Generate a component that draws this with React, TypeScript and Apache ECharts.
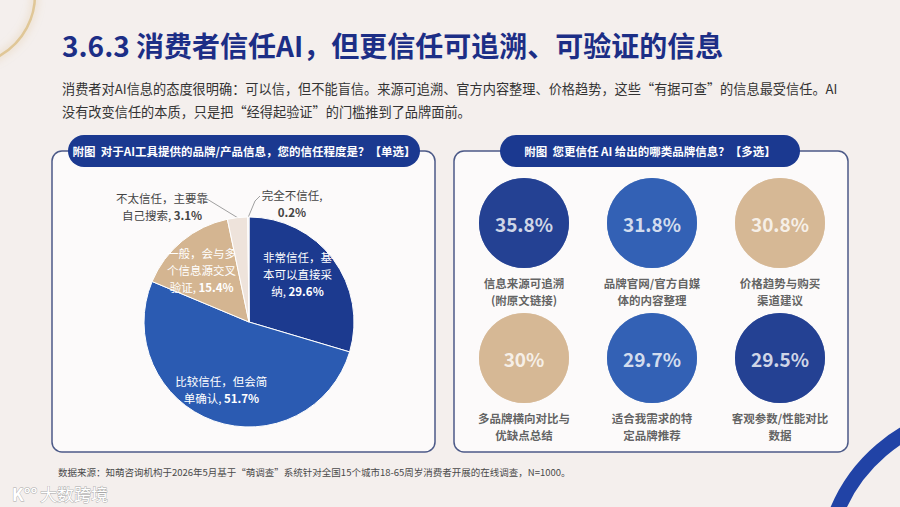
import React, { useEffect, useRef } from "react";
import * as echarts from "echarts";

// ---- data ----
const pageTitle = "3.6.3 消费者信任AI，但更信任可追溯、可验证的信息";
const introLines = [
  "消费者对AI信息的态度很明确：可以信，但不能盲信。来源可追溯、官方内容整理、价格趋势，这些“有据可查”的信息最受信任。AI",
  "没有改变信任的本质，只是把“经得起验证”的门槛推到了品牌面前。",
];
const leftHeading = "附图  对于AI工具提供的品牌/产品信息，您的信任程度是？【单选】";
const rightHeading = "附图  您更信任 AI 给出的哪类品牌信息？【多选】";
const sourceNote =
  "数据来源：知萌咨询机构于2026年5月基于“萌调查”系统针对全国15个城市18-65周岁消费者开展的在线调查，N=1000。";

const trustNames = [
  "非常信任，基\n本可以直接采\n纳",
  "比较信任，但会简\n单确认",
  "一般，会与多\n个信息源交叉\n验证",
  "不太信任，主要靠\n自己搜索",
  "完全不信任",
];
const trustShares = [29.6, 51.7, 15.4, 3.1, 0.2];

const infoTypes = [
  "信息来源可追溯\n(附原文链接)",
  "品牌官网/官方自媒\n体的内容整理",
  "价格趋势与购买\n渠道建议",
  "多品牌横向对比与\n优缺点总结",
  "适合我需求的特\n定品牌推荐",
  "客观参数/性能对比\n数据",
];
const infoShares = [35.8, 31.8, 30.8, 30, 29.7, 29.5];

// ---- styling ----
const FONT = '"Noto Sans CJK SC", "Noto Sans", sans-serif';
const NAVY = "#1c3a8f";
const BLUE = "#2b5bb2";
const TAN = "#d4b591";
const trustColors = [NAVY, BLUE, TAN, "#eee3db", "#f5efea"];
const infoColors = [NAVY, BLUE, TAN, TAN, BLUE, NAVY];

const PIE_CX = 249;
const PIE_CY = 322;
const PIE_R = 105;

// nudges for the labels drawn inside the slices
const insideShift: number[][] = [
  [4, -15],
  [-9, 15],
  [-12, -9],
];

function sliceAnchor(i: number): number[] {
  const total = trustShares.reduce((a, b) => a + b, 0);
  let before = 0;
  for (let k = 0; k < i; k++) before += trustShares[k];
  const a = ((before + trustShares[i] / 2) / total) * Math.PI * 2;
  return [PIE_CX + PIE_R * Math.sin(a), PIE_CY - PIE_R * Math.cos(a)];
}

function buildOption(): any {
  const richBase = {
    n: { fontFamily: FONT, fontSize: 11.5, lineHeight: 17, fontWeight: "normal" },
    v: { fontFamily: FONT, fontSize: 11.5, lineHeight: 17, fontWeight: "bold" },
  };

  const pieData = trustNames.map((name, i) => {
    const item: any = {
      name,
      value: trustShares[i],
      itemStyle: { color: trustColors[i] },
    };
    if (i >= 3) {
      item.label = { position: "outside", color: "#444444" };
      item.labelLine = { show: true, lineStyle: { color: "#a0a0a0", width: 1 } };
    }
    return item;
  });

  const circleData = infoShares.map((v, i) => ({
    name: infoTypes[i],
    value: [i % 3, Math.floor(i / 3), v],
    itemStyle: { color: infoColors[i] },
  }));

  const panel = (x: number, w: number) => ({
    type: "rect",
    shape: { x, y: 151, width: w, height: 301, r: 10 },
    style: { fill: "#fcfafa", stroke: "#4c5a88", lineWidth: 1.5 },
  });
  const pill = (x: number, w: number, text: string) => [
    {
      type: "rect",
      shape: { x, y: 135, width: w, height: 32, r: 16 },
      style: { fill: "#1b3990" },
    },
    {
      type: "text",
      x: x + w / 2,
      y: 151,
      style: {
        text,
        fill: "#ffffff",
        font: `bold 11.5px ${FONT}`,
        textAlign: "center",
        textVerticalAlign: "middle",
      },
    },
  ];

  return {
    animation: false,
    backgroundColor: "#f4efed",
    graphic: [
      // decorative rings in the corners
      {
        type: "circle",
        shape: { cx: -35, cy: -5, r: 70 },
        style: { fill: "rgba(0,0,0,0)", stroke: "#e0c797", lineWidth: 2.5, shadowBlur: 8, shadowColor: "rgba(214,180,120,0.7)" },
      },
      {
        type: "arc",
        shape: { cx: 985, cy: 572, r: 160, startAngle: Math.PI * 0.95, endAngle: Math.PI * 1.6 },
        style: { stroke: "#2143a6", lineWidth: 15, fill: "none" },
      },
      // heading
      {
        type: "text",
        x: 62,
        y: 45,
        style: {
          text: pageTitle,
          fill: "#1c2e86",
          font: `bold 28px ${FONT}`,
          textAlign: "left",
          textVerticalAlign: "middle",
        },
      },
      ...introLines.map((t, i) => ({
        type: "text",
        x: 62,
        y: 88 + i * 23,
        style: {
          text: t,
          fill: "#333333",
          font: `13.2px ${FONT}`,
          textAlign: "left",
          textVerticalAlign: "middle",
        },
      })),
      panel(52, 383),
      panel(454, 394),
      ...pill(68, 352, leftHeading),
      ...pill(500, 300, rightHeading),
      {
        type: "text",
        x: 58,
        y: 472,
        style: {
          text: sourceNote,
          fill: "#4a4a4a",
          font: `9.5px ${FONT}`,
          textAlign: "left",
          textVerticalAlign: "middle",
        },
      },
      {
        type: "text",
        x: 12,
        y: 493,
        style: {
          text: "K°°",
          fill: "#ffffff",
          stroke: "#a8a8a8",
          lineWidth: 0.8,
          font: `bold 17px ${FONT}`,
          textAlign: "left",
          textVerticalAlign: "middle",
        },
      },
      {
        type: "text",
        x: 40,
        y: 493,
        style: {
          text: "大数跨境",
          fill: "#ffffff",
          stroke: "#a8a8a8",
          lineWidth: 0.8,
          font: `17px ${FONT}`,
          textAlign: "left",
          textVerticalAlign: "middle",
        },
      },
    ],
    grid: { left: 460, width: 384, top: 155.5, height: 270 },
    xAxis: { type: "category", data: ["0", "1", "2"], show: false },
    yAxis: { type: "category", data: ["0", "1"], inverse: true, show: false },
    series: [
      {
        type: "pie",
        silent: true,
        center: [PIE_CX, PIE_CY],
        radius: PIE_R,
        startAngle: 90,
        avoidLabelOverlap: false,
        itemStyle: { borderColor: "#ffffff", borderWidth: 1 },
        label: {
          show: true,
          position: "inside",
          color: "#ffffff",
          fontFamily: FONT,
          fontSize: 11.5,
          lineHeight: 17,
          align: "center",
          formatter: (p: any) =>
            `{n|${p.name},${p.dataIndex === 4 ? "\n" : " "}}{v|${p.value}%}`,
          rich: richBase,
        },
        labelLine: { show: false },
        labelLayout: (p: any) => {
          const i = p.dataIndex;
          if (i === 3) {
            return {
              x: PIE_CX - 87,
              y: PIE_CY - 116,
              align: "center",
              verticalAlign: "middle",
              labelLinePoints: [sliceAnchor(3), [PIE_CX - 42, PIE_CY - 123]],
            };
          }
          if (i === 4) {
            return {
              x: PIE_CX + 43,
              y: PIE_CY - 119,
              align: "center",
              verticalAlign: "middle",
              labelLinePoints: [sliceAnchor(4), [PIE_CX + 6, PIE_CY - 121], [PIE_CX + 11, PIE_CY - 126]],
            };
          }
          return { dx: insideShift[i][0], dy: insideShift[i][1] };
        },
        data: pieData,
      },
      {
        type: "scatter",
        silent: true,
        symbol: "circle",
        symbolSize: 90,
        label: {
          show: true,
          position: "inside",
          color: "#ffffff",
          fontFamily: FONT,
          fontSize: 19,
          fontWeight: "bold",
          formatter: (p: any) => `${p.value[2]}%`,
        },
        data: circleData,
      },
      {
        type: "scatter",
        silent: true,
        symbol: "circle",
        symbolSize: 90,
        itemStyle: { color: "rgba(0,0,0,0)" },
        label: {
          show: true,
          position: "bottom",
          distance: 7,
          color: "#3a3a3a",
          fontFamily: FONT,
          fontSize: 11.5,
          fontWeight: "bold",
          lineHeight: 16.8,
          align: "center",
          formatter: (p: any) => p.name,
        },
        data: circleData,
      },
    ],
  };
}

export default function App() {
  const ref = useRef<HTMLDivElement>(null);
  useEffect(() => {
    if (!ref.current) return;
    const chart = echarts.init(ref.current, null, { renderer: "svg" });
    chart.setOption(buildOption());
    return () => chart.dispose();
  }, []);
  return (
    <div
      ref={ref}
      style={{ position: "absolute", left: 0, top: 0, width: 900, height: 507 }}
    />
  );
}
